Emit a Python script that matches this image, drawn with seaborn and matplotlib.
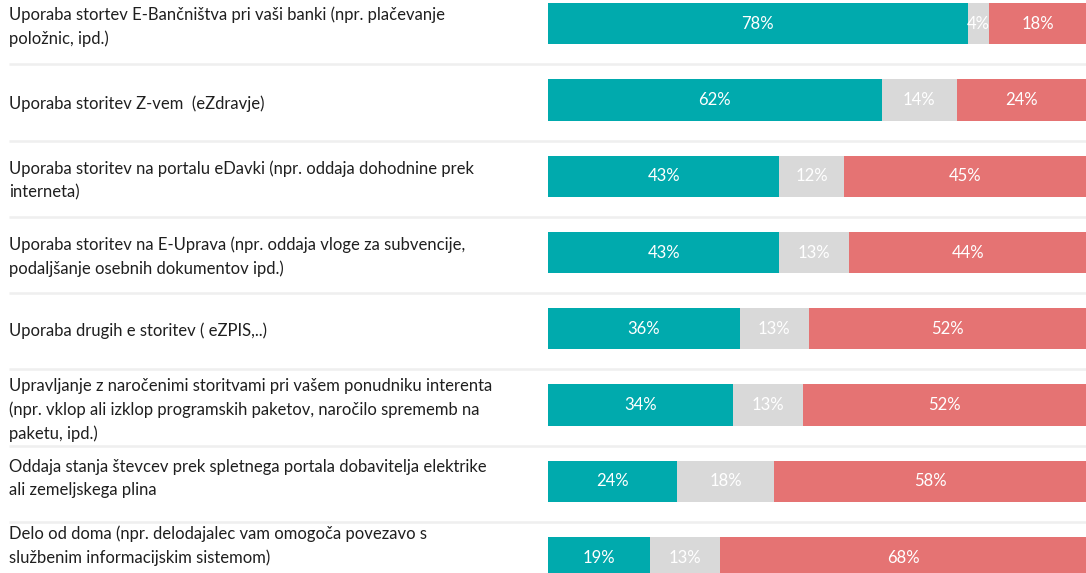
import matplotlib
matplotlib.use("Agg")
import matplotlib.pyplot as plt
import matplotlib.transforms as mtransforms
import numpy as np
import pandas as pd
import seaborn as sns

# Survey items (row labels, drawn top to bottom)
categories = [
    "Uporaba stortev E-Bančništva pri vaši banki (npr. plačevanje\npoložnic, ipd.)",
    "Uporaba storitev Z-vem  (eZdravje)",
    "Uporaba storitev na portalu eDavki (npr. oddaja dohodnine prek\ninterneta)",
    "Uporaba storitev na E-Uprava (npr. oddaja vloge za subvencije,\npodaljšanje osebnih dokumentov ipd.)",
    "Uporaba drugih e storitev ( eZPIS,..)",
    "Upravljanje z naročenimi storitvami pri vašem ponudniku interenta\n(npr. vklop ali izklop programskih paketov, naročilo sprememb na\npaketu, ipd.)",
    "Oddaja stanja števcev prek spletnega portala dobavitelja elektrike\nali zemeljskega plina",
    "Delo od doma (npr. delodajalec vam omogoča povezavo s\nslužbenim informacijskim sistemom)",
]

# Shares of answers per item, in percent
share_yes = [78, 62, 43, 43, 36, 34, 24, 19]
share_mid = [4, 14, 12, 13, 13, 13, 18, 13]
share_no = [18, 24, 45, 44, 52, 52, 58, 68]

TEAL = "#00AAAD"
GREY = "#D9D9D9"
RED = "#E57373"
SEP = "#EFEFEF"
TEXT = "#1F1F1F"

sns.set_theme(style="white")
plt.rcParams["font.family"] = ["Lato", "DejaVu Sans"]

df = pd.DataFrame({
    "item": categories,
    "yes": share_yes,
    "mid": share_mid,
    "no": share_no,
})
total = df[["yes", "mid", "no"]].sum(axis=1)
# 100 % stacked: each row normalised to its own total
df["c1"] = df["yes"] / total * 100
df["c2"] = (df["yes"] + df["mid"]) / total * 100
df["c3"] = 100.0

W, H = 1086, 573
fig = plt.figure(figsize=(W / 100, H / 100), dpi=100)
ax = fig.add_axes([548 / W, 0, 1 - 548 / W, 1])

bar_h = 0.54
for col, color in (("c3", RED), ("c2", GREY), ("c1", TEAL)):
    sns.barplot(data=df, x=col, y="item", orient="h", color=color,
                width=bar_h, saturation=1, edgecolor="none", linewidth=0,
                ax=ax)

n = len(categories)
ax.set_xlim(0, 100)
ax.set_ylim(7.202, -0.311)
ax.set_axis_off()

# Value labels in the middle of each segment
for i, row in df.iterrows():
    starts = [0, row["c1"], row["c2"]]
    ends = [row["c1"], row["c2"], row["c3"]]
    vals = [row["yes"], row["mid"], row["no"]]
    for s, e, v in zip(starts, ends, vals):
        ax.text((s + e) / 2, i, f"{v}%", ha="center", va="center",
                color="white", fontsize=12)

# Row labels on the left and thin separators between rows
tr = mtransforms.blended_transform_factory(fig.transFigure, ax.transData)
label_nudge = [0.04, 0.05, 0.06, 0.06, 0.02, 0.06, -0.04, -0.15]
for i, lab in enumerate(categories):
    ax.text(9 / W, i + label_nudge[i], lab, transform=tr, ha="left",
            va="center", color=TEXT, fontsize=12, linespacing=1.55,
            clip_on=False)
for i in range(n - 1):
    ax.plot([9 / W, 1.0], [i + 0.533, i + 0.533], transform=tr,
            color=SEP, linewidth=1.8, clip_on=False, solid_capstyle="butt")

fig.savefig("out.png", dpi=100)
